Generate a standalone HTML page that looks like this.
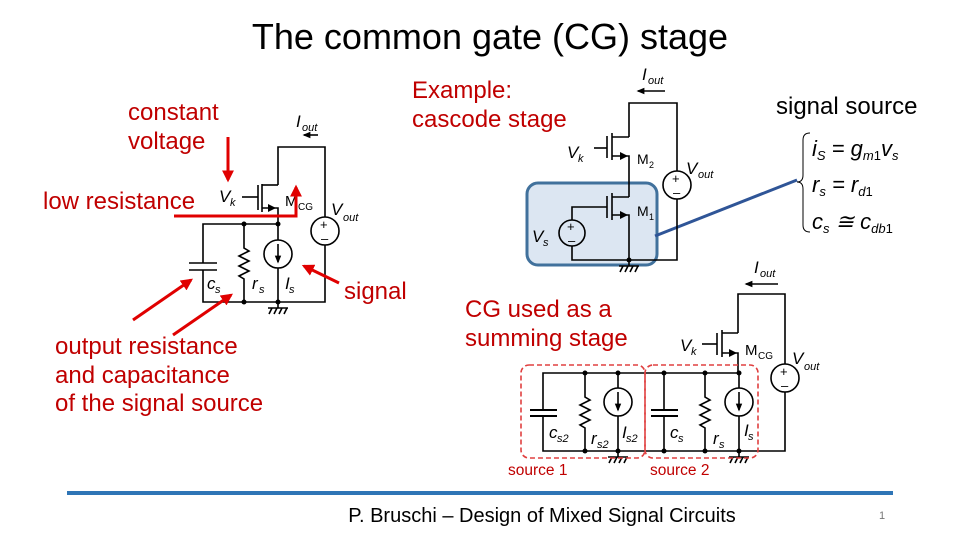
<!DOCTYPE html>
<html><head><meta charset="utf-8"><style>
html,body{margin:0;padding:0;background:#fff}
svg{display:block}
text{font-family:"Liberation Sans",sans-serif}
.r{fill:#c00000;font-size:24px}
.w{stroke:#000;stroke-width:1.6;fill:none}
.i{font-style:italic;font-size:17px}
.s{font-style:italic;font-size:11px}
</style></head><body>
<svg width="960" height="540" viewBox="0 0 960 540" xmlns="http://www.w3.org/2000/svg">
<defs>
<marker id="ra" viewBox="0 0 10 10" refX="8" refY="5" markerWidth="4" markerHeight="4" orient="auto"><path d="M0,0L10,5L0,10z" fill="#e00000"/></marker>
<marker id="ba" viewBox="0 0 10 10" refX="8" refY="5" markerWidth="5" markerHeight="5" orient="auto"><path d="M0,1L10,5L0,9z" fill="#000"/></marker>
</defs>
<text x="490" y="49" font-size="36" text-anchor="middle">The common gate (CG) stage</text>

<!-- left circuit -->
<text x="296" y="127" class="i">I</text><text x="302" y="131" class="s">out</text>
<line x1="318" y1="135" x2="304" y2="135" class="w" marker-end="url(#ba)"/>
<path class="w" d="M278,185V147H325V217M325,245V302H203V270M203,263V224H278V208H262M278,208"/>
<path d="M268,204L276,208L268,212z"/>
<line x1="262" y1="184" x2="262" y2="212" class="w"/>
<line x1="262" y1="185" x2="278" y2="185" class="w"/>
<line x1="258" y1="185" x2="258" y2="210" class="w" stroke-width="2"/>
<line x1="242" y1="197" x2="258" y2="197" class="w"/>
<line x1="189" y1="263" x2="217" y2="263" class="w" stroke-width="2"/>
<line x1="189" y1="270" x2="217" y2="270" class="w" stroke-width="2"/>
<path class="w" d="M244,224V248L249,251L239,256L249,261L239,266L249,271L239,276L244,279V302"/>
<path class="w" d="M278,224V240M278,268V302"/>
<circle cx="278" cy="254" r="14" class="w"/>
<line x1="278" y1="244" x2="278" y2="262" class="w" marker-end="url(#ba)"/>
<circle cx="325" cy="231" r="14" class="w"/>
<text x="320" y="229" font-size="13">+</text><text x="321" y="243" font-size="13">–</text>
<g fill="#000"><circle cx="244" cy="224" r="2.5"/><circle cx="278" cy="224" r="2.5"/><circle cx="244" cy="302" r="2.5"/><circle cx="278" cy="302" r="2.5"/></g>
<path class="w" d="M278,302V308M268,308H288M269,314L272,308M274,314L277,308M279,314L282,308M284,314L287,308" stroke-width="1.2"/>
<text x="219" y="202" class="i" font-size="18">V</text><text x="230" y="206" class="s">k</text>
<text x="285" y="206" font-size="15">M</text><text x="298" y="210" font-size="10">CG</text>
<text x="331" y="215" class="i" font-size="18">V</text><text x="343" y="221" class="s">out</text>
<text x="207" y="289" class="i">c</text><text x="215" y="293" class="s">s</text>
<text x="252" y="289" class="i">r</text><text x="259" y="293" class="s">s</text>
<text x="285" y="289" class="i">I</text><text x="289" y="293" class="s">s</text>

<!-- red annotations -->
<text x="128" y="120" class="r">constant</text>
<text x="128" y="149" class="r">voltage</text>
<line x1="228" y1="137" x2="228" y2="180" stroke="#e00000" stroke-width="3" marker-end="url(#ra)"/>
<text x="43" y="209" class="r">low resistance</text>
<polyline points="174,216 296,216 296,187" fill="none" stroke="#e00000" stroke-width="3" marker-end="url(#ra)"/>
<text x="344" y="299" class="r">signal</text>
<line x1="339" y1="283" x2="304" y2="266" stroke="#e00000" stroke-width="3" marker-end="url(#ra)"/>
<line x1="133" y1="320" x2="191" y2="280" stroke="#e00000" stroke-width="3" marker-end="url(#ra)"/>
<line x1="173" y1="335" x2="231" y2="295" stroke="#e00000" stroke-width="3" marker-end="url(#ra)"/>
<text x="55" y="354" class="r">output resistance</text>
<text x="55" y="383" class="r">and capacitance</text>
<text x="55" y="411" class="r">of the signal source</text>
<text x="412" y="98" class="r">Example:</text>
<text x="412" y="127" class="r">cascode stage</text>
<text x="465" y="317" class="r">CG used as a</text>
<text x="465" y="346" class="r">summing stage</text>

<!-- cascode -->
<rect x="527" y="183" width="130" height="82" rx="11" fill="#dce6f2" stroke="#41719c" stroke-width="3"/>
<line x1="655" y1="236" x2="797" y2="180" stroke="#2f5597" stroke-width="3"/>
<text x="642" y="80" class="i">I</text><text x="648" y="84" class="s">out</text>
<line x1="665" y1="91" x2="638" y2="91" class="w" marker-end="url(#ba)"/>
<path class="w" d="M629,137V103H677V171M677,199V260H572V246M572,220V207H607M629,260V215H612M629,197V156H612M629,137H612M629,197H612"/>
<path d="M620,152L628,156L620,160z"/><path d="M620,211L628,215L620,219z"/>
<line x1="612" y1="133" x2="612" y2="160" class="w"/><line x1="612" y1="193" x2="612" y2="220" class="w"/>
<line x1="607" y1="136" x2="607" y2="158" class="w" stroke-width="2"/><line x1="607" y1="196" x2="607" y2="218" class="w" stroke-width="2"/>
<line x1="594" y1="148" x2="607" y2="148" class="w"/>
<circle cx="677" cy="185" r="14" class="w"/><text x="672" y="183" font-size="13">+</text><text x="673" y="197" font-size="13">–</text>
<circle cx="572" cy="233" r="13" class="w"/><text x="567" y="231" font-size="13">+</text><text x="568" y="245" font-size="13">–</text>
<circle cx="629" cy="260" r="2.5"/>
<path class="w" d="M629,260V266M619,266H639M620,272L623,266M625,272L628,266M630,272L633,266M635,272L638,266" stroke-width="1.2"/>
<text x="567" y="158" class="i" font-size="18">V</text><text x="578" y="162" class="s">k</text>
<text x="637" y="164" font-size="14">M</text><text x="649" y="168" font-size="9">2</text>
<text x="686" y="174" class="i" font-size="18">V</text><text x="698" y="178" class="s">out</text>
<text x="637" y="216" font-size="14">M</text><text x="649" y="220" font-size="9">1</text>
<text x="532" y="242" class="i" font-size="18">V</text><text x="543" y="246" class="s">s</text>

<text x="776" y="114" font-size="24">signal source</text>
<path d="M810,133Q803,133 803,140V175Q803,182 797,182Q803,182 803,189V225Q803,232 810,232" fill="none" stroke="#000" stroke-width="1"/>
<g font-family="Liberation Serif,serif" font-style="italic" font-size="22">
<text x="812" y="156">i<tspan font-size="13" dy="4">S</tspan><tspan dy="-4"> = g</tspan><tspan font-size="13" dy="4">m</tspan><tspan font-style="normal" font-size="13">1</tspan><tspan dy="-4">v</tspan><tspan font-size="13" dy="4">s</tspan></text>
<text x="812" y="192">r<tspan font-size="13" dy="4">s</tspan><tspan dy="-4"> = r</tspan><tspan font-size="13" dy="4">d</tspan><tspan font-style="normal" font-size="13">1</tspan></text>
<text x="812" y="229">c<tspan font-size="13" dy="4">s</tspan><tspan dy="-4"> ≅ c</tspan><tspan font-size="13" dy="4">db</tspan><tspan font-style="normal" font-size="13">1</tspan></text>
</g>

<!-- summing -->
<text x="754" y="273" class="i">I</text><text x="760" y="277" class="s">out</text>
<line x1="778" y1="284" x2="746" y2="284" class="w" marker-end="url(#ba)"/>
<path class="w" d="M738,333V294H785V364M785,392V451H543V416M543,410V373H738V353H722M738,333H722"/>
<path d="M729,349L737,353L729,357z"/>
<line x1="722" y1="330" x2="722" y2="357" class="w"/>
<line x1="717" y1="333" x2="717" y2="355" class="w" stroke-width="2"/>
<line x1="702" y1="344" x2="717" y2="344" class="w"/>
<line x1="664" y1="373" x2="664" y2="410" class="w"/><line x1="664" y1="416" x2="664" y2="451" class="w"/>
<g stroke="#000" stroke-width="2"><line x1="530" y1="410" x2="557" y2="410"/><line x1="530" y1="416" x2="557" y2="416"/><line x1="651" y1="410" x2="678" y2="410"/><line x1="651" y1="416" x2="678" y2="416"/></g>
<path class="w" d="M585,373V397L590,400L580,405L590,410L580,415L590,420L580,425L585,428V451"/>
<path class="w" d="M705,373V397L710,400L700,405L710,410L700,415L710,420L700,425L705,428V451"/>
<path class="w" d="M618,373V388M618,416V451M739,373V388M739,416V451"/>
<circle cx="618" cy="402" r="14" class="w"/><line x1="618" y1="392" x2="618" y2="410" class="w" marker-end="url(#ba)"/>
<circle cx="739" cy="402" r="14" class="w"/><line x1="739" y1="392" x2="739" y2="410" class="w" marker-end="url(#ba)"/>
<circle cx="785" cy="378" r="14" class="w"/><text x="780" y="376" font-size="13">+</text><text x="781" y="390" font-size="13">–</text>
<g><circle cx="585" cy="373" r="2.5"/><circle cx="618" cy="373" r="2.5"/><circle cx="664" cy="373" r="2.5"/><circle cx="705" cy="373" r="2.5"/><circle cx="739" cy="373" r="2.5"/>
<circle cx="585" cy="451" r="2.5"/><circle cx="618" cy="451" r="2.5"/><circle cx="664" cy="451" r="2.5"/><circle cx="705" cy="451" r="2.5"/><circle cx="739" cy="451" r="2.5"/></g>
<path class="w" d="M618,451V457M608,457H628M609,463L612,457M614,463L617,457M619,463L622,457M624,463L627,457" stroke-width="1.2"/>
<path class="w" d="M739,451V457M729,457H749M730,463L733,457M735,463L738,457M740,463L743,457M745,463L748,457" stroke-width="1.2"/>
<rect x="521" y="365" width="124" height="93" rx="8" fill="none" stroke="#e04040" stroke-width="1.6" stroke-dasharray="5,3"/>
<rect x="645" y="365" width="113" height="93" rx="8" fill="none" stroke="#e04040" stroke-width="1.6" stroke-dasharray="5,3"/>
<text x="508" y="475" fill="#c00000" font-size="15.5">source 1</text>
<text x="650" y="475" fill="#c00000" font-size="15.5">source 2</text>
<text x="680" y="351" class="i" font-size="18">V</text><text x="691" y="355" class="s">k</text>
<text x="745" y="355" font-size="15">M</text><text x="758" y="359" font-size="10">CG</text>
<text x="792" y="364" class="i" font-size="18">V</text><text x="804" y="370" class="s">out</text>
<text x="549" y="438" class="i">c</text><text x="557" y="442" class="s">s2</text>
<text x="591" y="444" class="i">r</text><text x="597" y="448" class="s">s2</text>
<text x="622" y="438" class="i">I</text><text x="626" y="442" class="s">s2</text>
<text x="670" y="438" class="i">c</text><text x="678" y="442" class="s">s</text>
<text x="713" y="444" class="i">r</text><text x="719" y="448" class="s">s</text>
<text x="744" y="436" class="i">I</text><text x="748" y="440" class="s">s</text>

<line x1="67" y1="493" x2="893" y2="493" stroke="#2e75b6" stroke-width="4"/>
<text x="542" y="522" font-size="20" text-anchor="middle">P. Bruschi – Design of Mixed Signal Circuits</text>
<text x="879" y="519" font-size="11" fill="#777">1</text>
</svg>
</body></html>
